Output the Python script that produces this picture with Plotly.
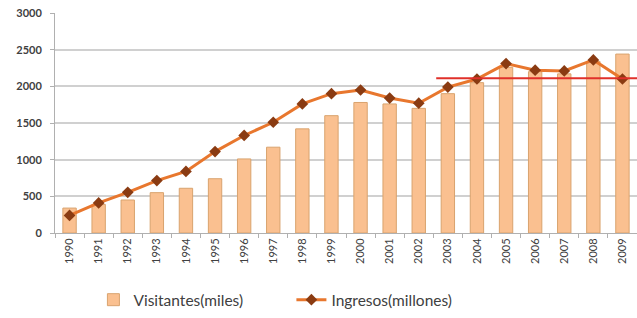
import plotly.graph_objects as go

years = [str(y) for y in range(1990, 2010)]
visitantes = [340, 390, 450, 550, 610, 740, 1010, 1170, 1420, 1600,
              1780, 1760, 1700, 1900, 2050, 2260, 2200, 2170, 2340, 2440]
ingresos = [240, 410, 555, 715, 840, 1110, 1330, 1510, 1760, 1900,
            1950, 1840, 1770, 1990, 2100, 2310, 2220, 2210, 2360, 2100]
ref_value = 2110
ref_start_index = 12.6

fig = go.Figure()
fig.add_trace(go.Bar(
    x=years, y=visitantes, name="Visitantes(miles)",
    marker=dict(color="#fac090", line=dict(color="#d9a36e", width=1)),
    width=0.46,
))
fig.add_trace(go.Scatter(
    x=years, y=ingresos, name="Ingresos(millones)", mode="lines+markers",
    line=dict(color="#e8772e", width=3),
    marker=dict(symbol="diamond", size=9, color="#8a3b12"),
))
fig.add_shape(type="line", xref="x", yref="y",
              x0=ref_start_index, x1=19.5, y0=ref_value, y1=ref_value,
              line=dict(color="#e0302a", width=2))

fig.update_layout(
    width=637, height=318,
    margin=dict(l=55, r=0, t=13, b=85, autoexpand=False),
    plot_bgcolor="white", paper_bgcolor="white",
    font=dict(family="Lato, Liberation Sans, sans-serif", color="#404040"),
    showlegend=True,
    legend=dict(orientation="h", x=0.066, xanchor="left", y=-0.305, yanchor="middle",
                font=dict(size=15.5, color="#404040"), itemwidth=30,
                entrywidth=153, traceorder="normal"),
)
fig.update_xaxes(
    type="category", tickangle=-90, tickfont=dict(size=11, color="#404040"),
    showline=True, linecolor="#b0b0b0", linewidth=1,
    ticks="outside", ticklen=4, tickcolor="#b0b0b0", tickson="boundaries",
    range=[-0.5, 19.5], automargin=False,
)
fig.update_yaxes(
    range=[0, 3000], dtick=500, tickfont=dict(size=11, color="#404040", weight="bold"),
    showgrid=True, gridcolor="#d0d0d0", gridwidth=2,
    showline=True, linecolor="#b0b0b0", linewidth=1,
    ticks="outside", ticklen=4, tickcolor="#b0b0b0", zeroline=False,
    ticklabelstandoff=6, automargin=False,
)

fig.write_html("out.html", config={"displayModeBar": False},
               post_script="document.body.style.margin='0';")
